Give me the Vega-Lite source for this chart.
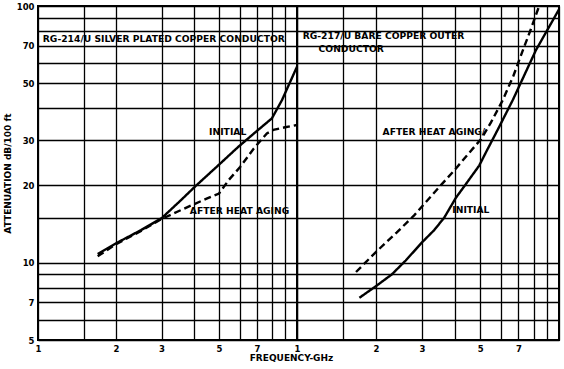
{
  "$schema": "https://vega.github.io/schema/vega-lite/v6.json",
  "background": "white",
  "padding": {"left": 2, "top": 1, "right": 6, "bottom": 4},
  "bounds": "flush",
  "spacing": 0,
  "config": {
    "view": {"stroke": "black", "strokeWidth": 2},
    "axis": {
      "gridColor": "black", "gridOpacity": 1, "gridWidth": 1.3,
      "domain": false, "ticks": false,
      "labelFont": "DejaVu Sans", "labelFontWeight": "bold", "labelFontSize": 8.5, "labelColor": "black",
      "titleFont": "DejaVu Sans", "titleFontWeight": "bold", "titleColor": "black",
      "labelFlush": false, "labelOverlap": false, "labelBound": false
    },
    "text": {"font": "DejaVu Sans", "fontWeight": "bold", "fontSize": 9.2, "color": "black"}
  },
  "datasets": {
    "curves": [
      {"cable": "RG-214/U", "condition": "Initial", "freq": 1.7, "atten": 10.8},
      {"cable": "RG-214/U", "condition": "Initial", "freq": 2, "atten": 11.9},
      {"cable": "RG-214/U", "condition": "Initial", "freq": 2.5, "atten": 13.4},
      {"cable": "RG-214/U", "condition": "Initial", "freq": 3, "atten": 14.9},
      {"cable": "RG-214/U", "condition": "Initial", "freq": 3.58, "atten": 17.6},
      {"cable": "RG-214/U", "condition": "Initial", "freq": 4.04, "atten": 19.8},
      {"cable": "RG-214/U", "condition": "Initial", "freq": 5, "atten": 24.1},
      {"cable": "RG-214/U", "condition": "Initial", "freq": 5.94, "atten": 28.3},
      {"cable": "RG-214/U", "condition": "Initial", "freq": 7, "atten": 32.6},
      {"cable": "RG-214/U", "condition": "Initial", "freq": 8, "atten": 36.5},
      {"cable": "RG-214/U", "condition": "Initial", "freq": 8.75, "atten": 43},
      {"cable": "RG-214/U", "condition": "Initial", "freq": 9.4, "atten": 50.5},
      {"cable": "RG-214/U", "condition": "Initial", "freq": 10, "atten": 58},
      {"cable": "RG-214/U", "condition": "After heat aging", "freq": 1.7, "atten": 10.6},
      {"cable": "RG-214/U", "condition": "After heat aging", "freq": 2, "atten": 11.8},
      {"cable": "RG-214/U", "condition": "After heat aging", "freq": 2.5, "atten": 13.3},
      {"cable": "RG-214/U", "condition": "After heat aging", "freq": 3, "atten": 14.8},
      {"cable": "RG-214/U", "condition": "After heat aging", "freq": 3.5, "atten": 15.9},
      {"cable": "RG-214/U", "condition": "After heat aging", "freq": 4, "atten": 16.9},
      {"cable": "RG-214/U", "condition": "After heat aging", "freq": 4.5, "atten": 17.8},
      {"cable": "RG-214/U", "condition": "After heat aging", "freq": 5, "atten": 18.6},
      {"cable": "RG-214/U", "condition": "After heat aging", "freq": 5.45, "atten": 21},
      {"cable": "RG-214/U", "condition": "After heat aging", "freq": 6.03, "atten": 23.6},
      {"cable": "RG-214/U", "condition": "After heat aging", "freq": 6.8, "atten": 27.8},
      {"cable": "RG-214/U", "condition": "After heat aging", "freq": 7.65, "atten": 31.9},
      {"cable": "RG-214/U", "condition": "After heat aging", "freq": 8.1, "atten": 32.9},
      {"cable": "RG-214/U", "condition": "After heat aging", "freq": 9, "atten": 33.7},
      {"cable": "RG-214/U", "condition": "After heat aging", "freq": 10, "atten": 34.4},
      {"cable": "RG-217/U", "condition": "Initial", "freq": 1.73, "atten": 7.3},
      {"cable": "RG-217/U", "condition": "Initial", "freq": 2, "atten": 8.1},
      {"cable": "RG-217/U", "condition": "Initial", "freq": 2.3, "atten": 9.0},
      {"cable": "RG-217/U", "condition": "Initial", "freq": 2.6, "atten": 10.2},
      {"cable": "RG-217/U", "condition": "Initial", "freq": 3, "atten": 12.0},
      {"cable": "RG-217/U", "condition": "Initial", "freq": 3.34, "atten": 13.4},
      {"cable": "RG-217/U", "condition": "Initial", "freq": 3.65, "atten": 15},
      {"cable": "RG-217/U", "condition": "Initial", "freq": 4.04, "atten": 17.9},
      {"cable": "RG-217/U", "condition": "Initial", "freq": 4.42, "atten": 20.3},
      {"cable": "RG-217/U", "condition": "Initial", "freq": 4.96, "atten": 23.9},
      {"cable": "RG-217/U", "condition": "Initial", "freq": 5.27, "atten": 27},
      {"cable": "RG-217/U", "condition": "Initial", "freq": 5.83, "atten": 32.9},
      {"cable": "RG-217/U", "condition": "Initial", "freq": 6.66, "atten": 43},
      {"cable": "RG-217/U", "condition": "Initial", "freq": 8.17, "atten": 67.4},
      {"cable": "RG-217/U", "condition": "Initial", "freq": 10, "atten": 97},
      {"cable": "RG-217/U", "condition": "After heat aging", "freq": 1.68, "atten": 9.2},
      {"cable": "RG-217/U", "condition": "After heat aging", "freq": 2, "atten": 11.0},
      {"cable": "RG-217/U", "condition": "After heat aging", "freq": 2.4, "atten": 13.1},
      {"cable": "RG-217/U", "condition": "After heat aging", "freq": 2.8, "atten": 15.3},
      {"cable": "RG-217/U", "condition": "After heat aging", "freq": 3.55, "atten": 20.1},
      {"cable": "RG-217/U", "condition": "After heat aging", "freq": 4, "atten": 23},
      {"cable": "RG-217/U", "condition": "After heat aging", "freq": 4.5, "atten": 26.5},
      {"cable": "RG-217/U", "condition": "After heat aging", "freq": 5.04, "atten": 30.3},
      {"cable": "RG-217/U", "condition": "After heat aging", "freq": 5.5, "atten": 35.2},
      {"cable": "RG-217/U", "condition": "After heat aging", "freq": 6.1, "atten": 43},
      {"cable": "RG-217/U", "condition": "After heat aging", "freq": 6.7, "atten": 53.5},
      {"cable": "RG-217/U", "condition": "After heat aging", "freq": 7.27, "atten": 67},
      {"cable": "RG-217/U", "condition": "After heat aging", "freq": 7.8, "atten": 81},
      {"cable": "RG-217/U", "condition": "After heat aging", "freq": 8.34, "atten": 98},
      {"cable": "RG-217/U", "condition": "After heat aging", "freq": 8.4, "atten": 100}
    ],
    "notes": [
      {"cable": "RG-214/U", "label": "RG-214/U SILVER PLATED COPPER CONDUCTOR", "freq": 3.06, "atten": 74.6},
      {"cable": "RG-214/U", "label": "INITIAL", "freq": 5.4, "atten": 32.2},
      {"cable": "RG-214/U", "label": "AFTER HEAT AGING", "freq": 6.0, "atten": 15.9},
      {"cable": "RG-217/U", "label": "RG-217/U BARE COPPER OUTER", "freq": 2.14, "atten": 76.2},
      {"cable": "RG-217/U", "label": "CONDUCTOR", "freq": 1.61, "atten": 68.2},
      {"cable": "RG-217/U", "label": "AFTER HEAT AGING/", "freq": 3.33, "atten": 32.2},
      {"cable": "RG-217/U", "label": "INITIAL", "freq": 4.61, "atten": 16}
    ]
  },
  "hconcat": [
    {
      "width": 259,
      "height": 334,
      "layer": [
        {
          "data": {"name": "curves"},
          "transform": [{"filter": "datum.cable == 'RG-214/U'"}],
          "mark": {"type": "line", "stroke": "black", "strokeWidth": 2.4},
          "encoding": {
            "x": {
              "field": "freq", "type": "quantitative",
              "scale": {"type": "log", "domain": [1, 10], "nice": false},
              "axis": {
                "values": [1, 1.5, 2, 3, 4, 5, 6, 7, 8, 9, 10],
                "labelExpr": "datum.value == 10 ? '1' : (indexof([1, 2, 3, 5, 7], datum.value) >= 0 ? datum.label : '')",
                "labelPadding": 4,
                "title": "FREQUENCY-GHz", "titleFontSize": 9, "titleX": 253, "titleY": 13, "titleAlign": "center"
              }
            },
            "y": {
              "field": "atten", "type": "quantitative",
              "scale": {"type": "log", "domain": [5, 100], "nice": false},
              "axis": {
                "values": [5, 6, 7, 8, 9, 10, 15, 20, 30, 40, 50, 60, 70, 80, 90, 100],
                "labelExpr": "indexof([5, 7, 10, 20, 30, 50, 70, 100], datum.value) >= 0 ? datum.label : ''",
                "labelPadding": 4,
                "title": "ATTENUATION dB/100 ft", "titleFontSize": 9, "titlePadding": 4
              }
            },
            "strokeDash": {
              "field": "condition", "type": "nominal",
              "scale": {"domain": ["Initial", "After heat aging"], "range": [[1, 0], [7, 4]]},
              "legend": null
            }
          }
        },
        {
          "mark": {"type": "rect", "fill": "white", "stroke": "black", "strokeWidth": 1.6},
          "encoding": {
            "x": {"datum": 1, "type": "quantitative", "scale": {"type": "log", "domain": [1, 10], "nice": false}},
            "x2": {"datum": 10},
            "y": {"datum": 70, "type": "quantitative", "scale": {"type": "log", "domain": [5, 100], "nice": false}},
            "y2": {"datum": 80}
          }
        },
        {
          "data": {"name": "notes"},
          "transform": [{"filter": "datum.cable == 'RG-214/U'"}],
          "mark": {"type": "text", "align": "center", "baseline": "middle"},
          "encoding": {
            "x": {"field": "freq", "type": "quantitative", "scale": {"type": "log", "domain": [1, 10], "nice": false}},
            "y": {"field": "atten", "type": "quantitative", "scale": {"type": "log", "domain": [5, 100], "nice": false}},
            "text": {"field": "label"}
          }
        }
      ]
    },
    {
      "width": 262,
      "height": 334,
      "layer": [
        {
          "data": {"name": "curves"},
          "transform": [{"filter": "datum.cable == 'RG-217/U'"}],
          "mark": {"type": "line", "stroke": "black", "strokeWidth": 2.4, "clip": true},
          "encoding": {
            "x": {
              "field": "freq", "type": "quantitative",
              "scale": {"type": "log", "domain": [1, 10], "nice": false},
              "axis": {
                "values": [1, 1.5, 2, 3, 4, 5, 6, 7, 8, 9, 10],
                "labelExpr": "indexof([2, 3, 5, 7], datum.value) >= 0 ? datum.label : ''",
                "labelPadding": 4,
                "title": null
              }
            },
            "y": {
              "field": "atten", "type": "quantitative",
              "scale": {"type": "log", "domain": [5, 100], "nice": false},
              "axis": {
                "values": [5, 6, 7, 8, 9, 10, 15, 20, 30, 40, 50, 60, 70, 80, 90, 100],
                "labels": false,
                "title": null
              }
            },
            "strokeDash": {
              "field": "condition", "type": "nominal",
              "scale": {"domain": ["Initial", "After heat aging"], "range": [[1, 0], [7, 4]]},
              "legend": null
            }
          }
        },
        {
          "mark": {"type": "rect", "fill": "white"},
          "encoding": {
            "x": {"datum": 1.02, "type": "quantitative", "scale": {"type": "log", "domain": [1, 10], "nice": false}},
            "x2": {"datum": 4.8},
            "y": {"datum": 71, "type": "quantitative", "scale": {"type": "log", "domain": [5, 100], "nice": false}},
            "y2": {"datum": 79}
          }
        },
        {
          "mark": {"type": "rect", "fill": "white"},
          "encoding": {
            "x": {"datum": 1.02, "type": "quantitative", "scale": {"type": "log", "domain": [1, 10], "nice": false}},
            "x2": {"datum": 2.2},
            "y": {"datum": 65, "type": "quantitative", "scale": {"type": "log", "domain": [5, 100], "nice": false}},
            "y2": {"datum": 79}
          }
        },
        {
          "data": {"name": "notes"},
          "transform": [{"filter": "datum.cable == 'RG-217/U'"}],
          "mark": {"type": "text", "align": "center", "baseline": "middle"},
          "encoding": {
            "x": {"field": "freq", "type": "quantitative", "scale": {"type": "log", "domain": [1, 10], "nice": false}},
            "y": {"field": "atten", "type": "quantitative", "scale": {"type": "log", "domain": [5, 100], "nice": false}},
            "text": {"field": "label"}
          }
        }
      ]
    }
  ]
}
